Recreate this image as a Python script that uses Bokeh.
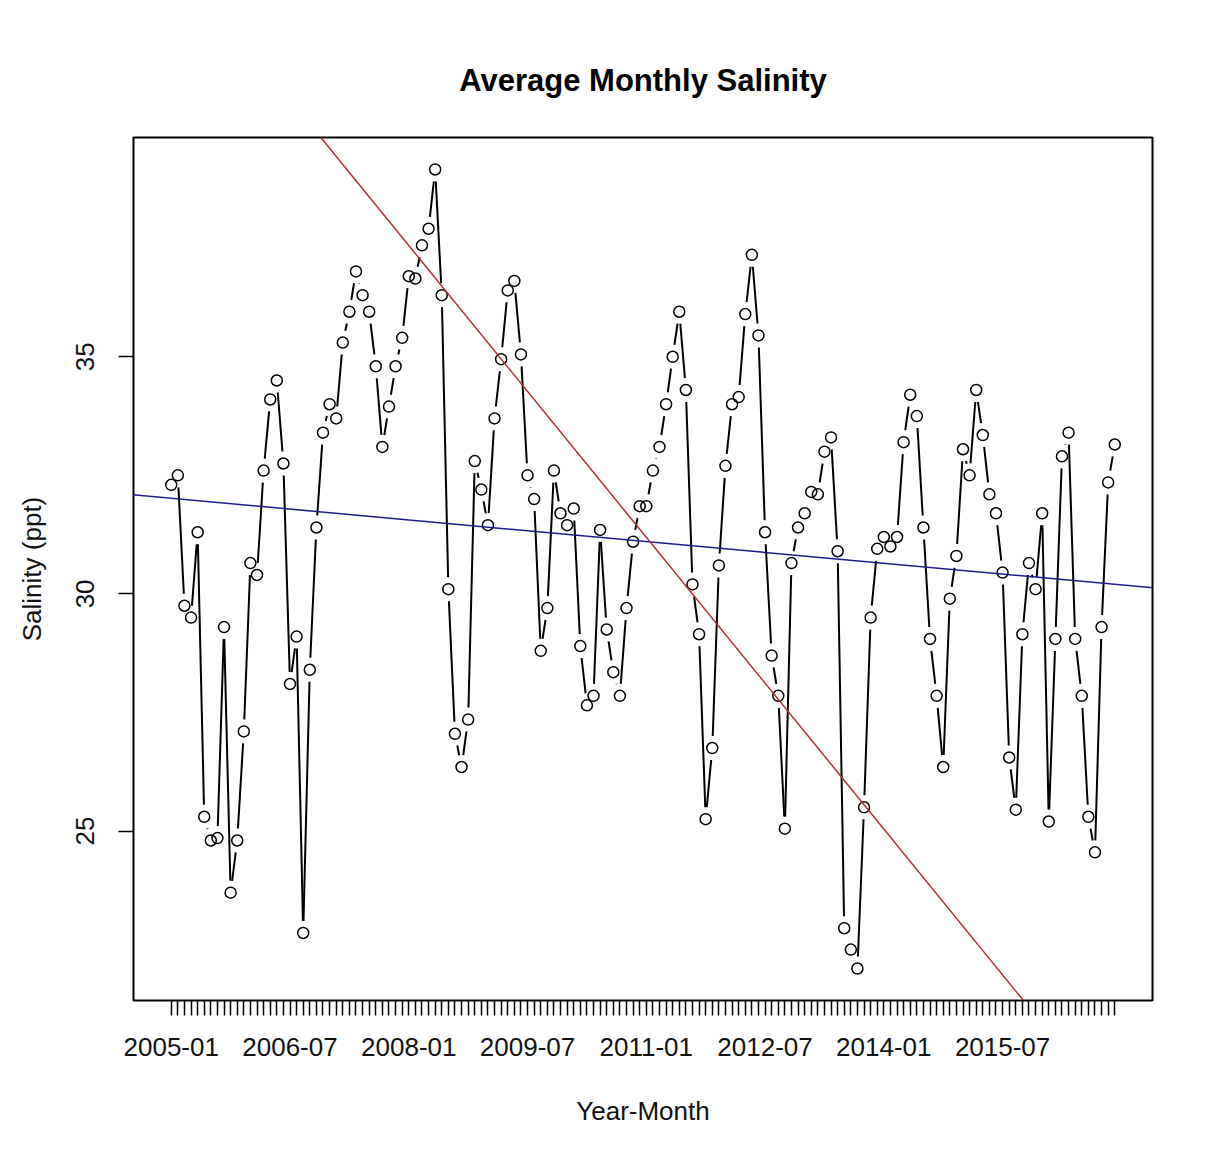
import math
from bokeh.plotting import figure
from bokeh.models import Range1d, FixedTicker, ColumnDataSource, Slope
from bokeh.embed import file_html
from bokeh.resources import INLINE

# Monthly average salinity (ppt), 2005-01 .. 2016-12
salinity = [
    32.3, 32.5, 29.75, 29.5, 31.3, 25.3, 24.8, 24.85, 29.3, 23.7, 24.8, 27.1,
    30.65, 30.4, 32.6, 34.1, 34.5, 32.75, 28.1, 29.1, 22.85, 28.4, 31.4, 33.4,
    34.0, 33.7, 35.3, 35.95, 36.8, 36.3, 35.95, 34.8, 33.1, 33.95, 34.8, 35.4,
    36.7, 36.65, 37.35, 37.7, 38.95, 36.3, 30.1, 27.05, 26.35, 27.35, 32.8, 32.2,
    31.45, 33.7, 34.95, 36.4, 36.6, 35.05, 32.5, 32.0, 28.8, 29.7, 32.6, 31.7,
    31.45, 31.8, 28.9, 27.65, 27.85, 31.35, 29.25, 28.35, 27.85, 29.7, 31.1, 31.85,
    31.85, 32.6, 33.1, 34.0, 35.0, 35.95, 34.3, 30.2, 29.15, 25.25, 26.75, 30.6,
    32.7, 34.0, 34.15, 35.9, 37.15, 35.45, 31.3, 28.7, 27.85, 25.05, 30.65, 31.4,
    31.7, 32.15, 32.1, 33.0, 33.3, 30.9, 22.95, 22.5, 22.1, 25.5, 29.5, 30.95,
    31.2, 31.0, 31.2, 33.2, 34.2, 33.75, 31.4, 29.05, 27.85, 26.35, 29.9, 30.8,
    33.05, 32.5, 34.3, 33.35, 32.1, 31.7, 30.45, 26.55, 25.45, 29.15, 30.65, 30.1,
    31.7, 25.2, 29.05, 32.9, 33.4, 29.05, 27.85, 25.3, 24.55, 29.3, 32.35, 33.15,
]
start_year = 2005
tick_labels = ["2005-01", "2006-07", "2008-01", "2009-07",
               "2011-01", "2012-07", "2014-01", "2015-07"]
y_ticks = [25, 30, 35]

# fitted lines (intercept at month index 0, slope per month)
blue_intercept, blue_slope = 32.03, -0.0127
red_intercept, red_slope = 43.67, -0.1709

n = len(salinity)
months = [f"{start_year + i // 12}-{i % 12 + 1:02d}" for i in range(n)]
xs = list(range(1, n + 1))

xpad = 0.04 * (n - 1)
x_start, x_end = 1 - xpad, n + xpad
ymin, ymax = min(salinity), max(salinity)
ypad = 0.04 * (ymax - ymin)
y_start, y_end = ymin - ypad, ymax + ypad

W, H = 1200, 1150
ML, MR, MT, MB = 133, 48, 137, 150
FW, FH = W - ML - MR, H - MT - MB
sx = FW / (x_end - x_start)
sy = FH / (y_end - y_start)

# type="b": line segments with gaps around points
gap = 12
x0, y0, x1, y1 = [], [], [], []
for i in range(n - 1):
    dx = xs[i + 1] - xs[i]
    dy = salinity[i + 1] - salinity[i]
    L = math.hypot(dx * sx, dy * sy)
    if L <= 2 * gap:
        continue
    f = gap / L
    x0.append(xs[i] + f * dx)
    y0.append(salinity[i] + f * dy)
    x1.append(xs[i + 1] - f * dx)
    y1.append(salinity[i + 1] - f * dy)

FONT = "Liberation Sans"

p = figure(width=W, height=H,
           min_border_left=ML, min_border_right=MR,
           min_border_top=MT, min_border_bottom=MB,
           x_range=Range1d(x_start, x_end), y_range=Range1d(y_start, y_end),
           output_backend="svg", toolbar_location=None,
           title="Average Monthly Salinity")
p.background_fill_color = "white"
p.border_fill_color = "white"
p.outline_line_color = "black"
p.outline_line_width = 2
p.xgrid.visible = False
p.ygrid.visible = False

p.title.align = "center"
p.title.text_font = FONT
p.title.text_font_size = "31px"
p.title.text_font_style = "bold"
p.title.text_color = "black"
p.title.standoff = 80

seg = ColumnDataSource(dict(x0=x0, y0=y0, x1=x1, y1=y1))
p.segment("x0", "y0", "x1", "y1", source=seg, line_color="black", line_width=2)

pts = ColumnDataSource(dict(x=xs, y=salinity, month=months))
p.scatter("x", "y", source=pts, marker="circle", size=11,
          fill_color=None, line_color="black", line_width=1.5)

p.add_layout(Slope(gradient=blue_slope, y_intercept=blue_intercept,
                   line_color="#1c1c8a", line_width=1.5))
p.add_layout(Slope(gradient=red_slope, y_intercept=red_intercept,
                   line_color="#b03030", line_width=1.5))

xa = p.xaxis[0]
xa.ticker = FixedTicker(ticks=xs, minor_ticks=[])
xa.major_label_overrides = {x: (m if m in tick_labels else "") for x, m in zip(xs, months)}
xa.axis_line_color = None
xa.major_tick_in = 0
xa.major_tick_out = 15
xa.major_tick_line_width = 1.5
xa.minor_tick_out = 0
xa.major_label_standoff = 22
xa.major_label_text_font = FONT
xa.major_label_text_font_size = "26px"
xa.major_label_text_color = "#111111"
xa.axis_label = "Year-Month"
xa.axis_label_text_font = FONT
xa.axis_label_text_font_size = "26px"
xa.axis_label_text_font_style = "normal"
xa.axis_label_text_color = "#111111"
xa.axis_label_standoff = 37

ya = p.yaxis[0]
ya.ticker = FixedTicker(ticks=y_ticks, minor_ticks=[])
ya.axis_line_color = None
ya.major_tick_in = 0
ya.major_tick_out = 15
ya.major_tick_line_width = 1.5
ya.minor_tick_out = 0
ya.major_label_orientation = "vertical"
ya.major_label_standoff = 24
ya.major_label_text_font = FONT
ya.major_label_text_font_size = "26px"
ya.major_label_text_color = "#111111"
ya.axis_label = "Salinity (ppt)"
ya.axis_label_text_font = FONT
ya.axis_label_text_font_size = "26px"
ya.axis_label_text_font_style = "normal"
ya.axis_label_text_color = "#111111"
ya.axis_label_standoff = 27

open("out.html", "w").write(file_html(p, INLINE))
